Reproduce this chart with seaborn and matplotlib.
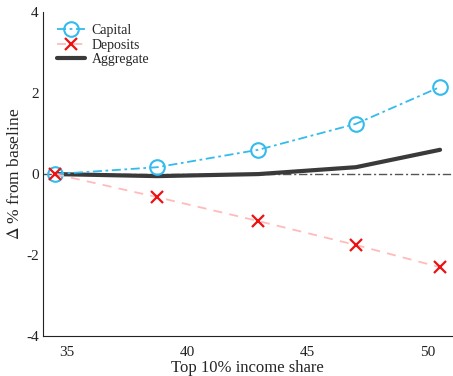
import matplotlib
matplotlib.use("Agg")
import matplotlib.pyplot as plt
import seaborn as sns
import pandas as pd

top10_share = [34.5, 38.75, 42.95, 47.0, 50.5]
capital = [0.0, 0.17, 0.60, 1.24, 2.15]
deposits = [0.0, -0.57, -1.16, -1.75, -2.30]
aggregate = [0.0, -0.05, 0.0, 0.17, 0.60]

x_ticks = [35, 40, 45, 50]
y_ticks = [-4, -2, 0, 2, 4]

sns.set_style("white")
plt.rcParams["font.family"] = ["Liberation Serif", "DejaVu Serif"]
plt.rcParams["mathtext.fontset"] = "stix"
plt.rcParams["axes.unicode_minus"] = False

df = pd.DataFrame({"share": top10_share, "Capital": capital,
                   "Deposits": deposits, "Aggregate": aggregate})

fig = plt.figure(figsize=(4.53, 3.76), dpi=100)
ax = fig.add_axes([0.095, 0.106, 0.903, 0.862])

ax.axhline(0, color="#555555", lw=1.0, ls=(0, (6, 2, 1.5, 2)), zorder=1)

sns.lineplot(data=df, x="share", y="Capital", ax=ax, color="#33bbee",
             lw=1.3, ls=(0, (5, 2, 1.5, 2)), marker="o", markersize=10.5,
             markerfacecolor="none", markeredgecolor="#33bbee",
             markeredgewidth=1.5, label="Capital", zorder=3)
sns.lineplot(data=df, x="share", y="Deposits", ax=ax, color="#ffbbbb",
             lw=1.3, ls=(0, (5, 4)), marker="x", markersize=8,
             markeredgecolor="#ee1111", markeredgewidth=1.6,
             label="Deposits", zorder=3)
sns.lineplot(data=df, x="share", y="Aggregate", ax=ax, color="#3a3a3a",
             lw=3.0, label="Aggregate", zorder=2)

ax.set_xlim(34.0, 51.0)
ax.set_ylim(-4, 4)
ax.set_xticks(x_ticks)
ax.set_yticks(y_ticks)
ax.set_xlabel("Top 10% income share", fontsize=12, labelpad=0.5)
ax.set_ylabel("$\\Delta$ % from baseline", fontsize=12.5, labelpad=2)

for side in ("top", "right"):
    ax.spines[side].set_visible(False)
for side in ("left", "bottom"):
    ax.spines[side].set_color("#222222")
    ax.spines[side].set_linewidth(0.8)
ax.tick_params(direction="in", length=4, width=0.8, labelsize=11,
               colors="#222222")
ax.tick_params(axis="y", pad=3)
ax.tick_params(axis="x", pad=7)

leg = ax.legend(loc="upper left", frameon=False, fontsize=10,
                bbox_to_anchor=(0.0, 1.005), handlelength=2.0,
                handletextpad=0.5, labelspacing=0.1, borderaxespad=0.6)

fig.savefig("out.png", dpi=100)
